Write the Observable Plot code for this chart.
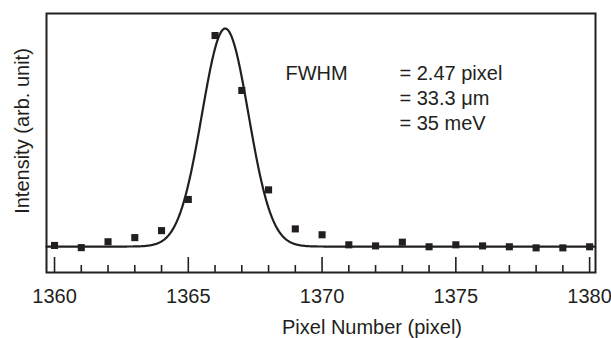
<!DOCTYPE html>
<html>
<head>
<meta charset="utf-8">
<script src="https://cdn.jsdelivr.net/npm/d3@7"></script>
<script src="https://cdn.jsdelivr.net/npm/@observablehq/plot@0.6"></script>
<style>
  html, body { margin: 0; padding: 0; background: #fff; }
  #chart svg { display: block; }
</style>
</head>
<body>
<div id="chart"></div>
<script>
// Measured data points (pixel number, intensity in arb. units; baseline ≈ 0, fit peak = 1)
const pixels = [1360, 1361, 1362, 1363, 1364, 1365, 1366, 1367, 1368, 1369, 1370,
                1371, 1372, 1373, 1374, 1375, 1376, 1377, 1378, 1379, 1380];
const intensity = [0.005, -0.005, 0.022, 0.041, 0.073, 0.216, 0.968, 0.716, 0.26, 0.081, 0.054,
                   0.008, 0.003, 0.020, -0.001, 0.008, 0.003, -0.001, -0.006, -0.006, -0.001];

// Gaussian fit parameters (as drawn)
const fitCenter = 1366.38;
const fitSigma = 0.87;
const fitAmplitude = 1.0;
const fitBaseline = 0.0;

// Axis ticks
const majorTicks = [1360, 1365, 1370, 1375, 1380];
const minorTicks = [1361, 1362, 1363, 1364, 1366, 1367, 1368, 1369, 1371, 1372, 1373, 1374,
                    1376, 1377, 1378, 1379];

// Texts
const xLabel = "Pixel Number (pixel)";
const yLabel = "Intensity (arb. unit)";
const annotLeft = ["FWHM"];
const annotRight = ["= 2.47 pixel", "= 33.3 μm", "= 35 meV"];

const points = pixels.map((p, i) => ({x: p, y: intensity[i]}));
const fitX = d3.range(1359.7, 1380.22, 0.02);
const fit = fitX.map(x => ({x, y: fitBaseline + fitAmplitude * Math.exp(-((x - fitCenter) ** 2) / (2 * fitSigma ** 2))}));

const ink = "#231f20";
const W = 611, H = 338;
const mL = 46, mR = 16, mT = 13, mB = 66;
const frameH = H - mT - mB;
const fs = 20;

const chart = Plot.plot({
  width: W,
  height: H,
  marginLeft: mL,
  marginRight: mR,
  marginTop: mT,
  marginBottom: mB,
  style: {fontFamily: "'Liberation Sans', Arial, sans-serif", color: ink, background: "#fff", overflow: "visible"},
  x: {domain: [1359.7, 1380.22]},
  y: {domain: [-0.119, 1.069]},
  marks: [
    Plot.axisX(majorTicks, {tickSize: 0, tickPadding: 16, fontSize: fs, fill: ink, label: null, tickFormat: d => String(d)}),
    Plot.axisY([], {label: null, tickSize: 0}),
    Plot.ruleX(majorTicks, {stroke: ink, strokeWidth: 1.6, insetTop: frameH - 15}),
    Plot.ruleX(minorTicks, {stroke: ink, strokeWidth: 1.6, insetTop: frameH - 7}),
    Plot.line(fit, {x: "x", y: "y", stroke: ink, strokeWidth: 2.2}),
    Plot.dot(points, {x: "x", y: "y", symbol: "square", r: 4, fill: ink, stroke: "none"}),
    Plot.frame({stroke: ink, strokeWidth: 2}),
    Plot.text(annotLeft, {frameAnchor: "top-left", text: d => d, dx: 239, dy: 52, fontSize: fs, fill: ink, textAnchor: "start", lineAnchor: "top"}),
    Plot.text([annotRight.join("\n")], {frameAnchor: "top-left", text: d => d, dx: 353, dy: 49, lineHeight: 1.25, fontSize: fs, fill: ink, textAnchor: "start", lineAnchor: "top"}),
    Plot.text([xLabel], {frameAnchor: "bottom", text: d => d, dx: 51, dy: 55, fontSize: fs, fill: ink, textAnchor: "middle", lineAnchor: "middle"}),
    Plot.text([yLabel], {frameAnchor: "left", text: d => d, dx: -24, dy: -12, rotate: -90, fontSize: fs, fill: ink, textAnchor: "middle", lineAnchor: "middle"})
  ]
});

document.getElementById("chart").appendChild(chart);
</script>
</body>
</html>
